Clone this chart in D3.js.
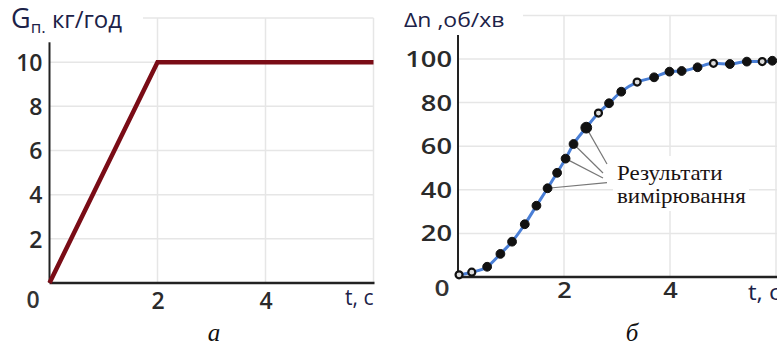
<!DOCTYPE html>
<html>
<head>
<meta charset="utf-8">
<script src="https://cdn.jsdelivr.net/npm/d3@7"></script>
<style>
  body { margin: 0; background: #fff; }
  svg { display: block; }
</style>
</head>
<body>
<div class="chart"></div>
<script>

// chart a: fuel flow
var flowT = [0, 2, 6];
var flowG = [0, 10, 10];
var flowTicksX = [2, 4];
var flowTicksY = [2, 4, 6, 8, 10];

// chart b: speed change, measured points
var speedT = [0.02, 0.26, 0.55, 0.8, 1.02, 1.26, 1.48, 1.69, 1.87, 2.03, 2.18, 2.42, 2.65,
              2.85, 3.08, 3.38, 3.7, 3.99, 4.22, 4.52, 4.82, 5.13, 5.45, 5.74, 5.93];
var speedN = [1, 2.2, 4.7, 10.6, 16.2, 24.2, 32.7, 40.7, 47.8, 54.3, 61, 68.5, 75.2,
              79.7, 85, 89.4, 91.6, 94.2, 94.5, 96.2, 98, 97.7, 98.8, 98.8, 99.2];
var speedHollow = [1, 1, 0, 0, 0, 0, 0, 0, 0, 0, 0, 0, 1,
                   0, 0, 1, 0, 0, 0, 0, 1, 0, 0, 1, 0];
var speedTicksX = [2, 4];
var speedTicksY = [20, 40, 60, 80, 100];
var labelled = [7, 9, 10, 11];

var width = 777,
    height = 347;

var svg = d3.select(".chart").append("svg")
    .attr("width", width)
    .attr("height", height)
    .attr("font-family", "Open Sans");

var gridColor = "#e6e6e6",
    axisColor = "#222",
    tickColor = "#2a2a2a",
    titleColor = "#1c2248";

// ---------- chart a ----------
var xa = d3.scaleLinear().domain([0, 6]).range([49.5, 373.5]);
var ya = d3.scaleLinear().domain([0, 12]).range([283, 18]);

var ga = svg.append("g");

ga.selectAll("line.hgrid")
    .data(flowTicksY)
  .enter().append("line")
    .attr("x1", xa(0)).attr("x2", xa(6))
    .attr("y1", function(d) { return ya(d); })
    .attr("y2", function(d) { return ya(d); })
    .attr("stroke", gridColor).attr("stroke-width", 1.5);

ga.selectAll("line.vgrid")
    .data([2, 4, 6])
  .enter().append("line")
    .attr("x1", function(d) { return xa(d); })
    .attr("x2", function(d) { return xa(d); })
    .attr("y1", ya(12)).attr("y2", ya(0))
    .attr("stroke", gridColor).attr("stroke-width", 1.5);

ga.append("line")
    .attr("x1", 143).attr("x2", xa(6))
    .attr("y1", ya(12)).attr("y2", ya(12))
    .attr("stroke", gridColor).attr("stroke-width", 1.5);

// axes
ga.append("line")
    .attr("x1", xa(0)).attr("x2", xa(0))
    .attr("y1", ya(10.9)).attr("y2", ya(0))
    .attr("stroke", axisColor).attr("stroke-width", 2);
ga.append("line")
    .attr("x1", xa(0)).attr("x2", xa(6) + 1)
    .attr("y1", ya(0)).attr("y2", ya(0))
    .attr("stroke", axisColor).attr("stroke-width", 2.5);

var ayA = ga.append("g")
    .attr("transform", "translate(" + xa(0) + ",0)")
    .call(d3.axisLeft(ya).tickValues(flowTicksY).tickFormat(d3.format("d")).tickSize(0).tickPadding(7));
ayA.select(".domain").remove();
ayA.selectAll("text")
    .attr("font-family", "Open Sans").attr("font-size", 23).attr("font-weight", 600)
    .attr("fill", tickColor).attr("dy", "0.36em");

var axA = ga.append("g")
    .attr("transform", "translate(0," + ya(0) + ")")
    .call(d3.axisBottom(xa).tickValues(flowTicksX).tickFormat(d3.format("d")).tickSize(0).tickPadding(10));
axA.select(".domain").remove();
axA.selectAll("text")
    .attr("font-family", "Open Sans").attr("font-size", 23).attr("font-weight", 600)
    .attr("fill", tickColor);

ga.append("text")
    .attr("x", 33).attr("y", 308)
    .attr("text-anchor", "middle")
    .attr("font-size", 23).attr("font-weight", 600)
    .attr("fill", "#333")
    .text("0");

ga.append("text")
    .attr("x", xa(6)).attr("y", 305)
    .attr("text-anchor", "end")
    .attr("font-size", 21)
    .attr("fill", titleColor)
    .text("t, c");

var titleA = ga.append("text")
    .attr("x", 11).attr("y", 28)
    .attr("fill", titleColor);
titleA.append("tspan").attr("font-size", 27).text("G");
titleA.append("tspan").attr("font-size", 17).attr("dy", 5).text("п.");
titleA.append("tspan").attr("font-size", 24).attr("dy", -5).text(" кг/год");

var flowLine = d3.line()
    .x(function(d, i) { return xa(flowT[i]); })
    .y(function(d) { return ya(d); });

ga.append("path")
    .attr("d", flowLine(flowG))
    .attr("fill", "none")
    .attr("stroke", "#7a0c16")
    .attr("stroke-width", 4.5)
    .attr("stroke-linejoin", "miter");

ga.append("text")
    .attr("x", 214).attr("y", 341)
    .attr("text-anchor", "middle")
    .attr("font-family", "Liberation Serif")
    .attr("font-style", "italic")
    .attr("font-size", 25)
    .attr("fill", "#111")
    .text("а");

// ---------- chart b ----------
var xb = d3.scaleLinear().domain([0, 6]).range([458, 776]);
var yb = d3.scaleLinear().domain([0, 120]).range([277, 15.4]);

var gb = svg.append("g");

gb.selectAll("line.hgrid")
    .data(speedTicksY)
  .enter().append("line")
    .attr("x1", xb(0)).attr("x2", width)
    .attr("y1", function(d) { return yb(d); })
    .attr("y2", function(d) { return yb(d); })
    .attr("stroke", gridColor).attr("stroke-width", 1.5);

gb.selectAll("line.vgrid")
    .data([2, 4, 6])
  .enter().append("line")
    .attr("x1", function(d) { return xb(d); })
    .attr("x2", function(d) { return xb(d); })
    .attr("y1", yb(120)).attr("y2", yb(0))
    .attr("stroke", gridColor).attr("stroke-width", 1.5);

gb.append("line")
    .attr("x1", 523).attr("x2", width)
    .attr("y1", yb(120)).attr("y2", yb(120))
    .attr("stroke", gridColor).attr("stroke-width", 1.5);

gb.append("line")
    .attr("x1", xb(0)).attr("x2", xb(0))
    .attr("y1", yb(111)).attr("y2", yb(0))
    .attr("stroke", axisColor).attr("stroke-width", 2);
gb.append("line")
    .attr("x1", xb(0)).attr("x2", width)
    .attr("y1", yb(0)).attr("y2", yb(0))
    .attr("stroke", axisColor).attr("stroke-width", 2.5);

var ayB = gb.append("g")
    .attr("transform", "translate(" + xb(0) + ",0)")
    .call(d3.axisLeft(yb).tickValues(speedTicksY).tickFormat(d3.format("d")).tickSize(0).tickPadding(0));
ayB.select(".domain").remove();
ayB.selectAll("text")
    .attr("x", null)
    .attr("font-family", "Open Sans").attr("font-size", 21).attr("font-weight", 600)
    .attr("fill", tickColor).attr("dy", "0.36em")
    .attr("transform", "translate(-6,0) scale(1.3,1)");

var axB = gb.append("g")
    .attr("transform", "translate(0," + yb(0) + ")")
    .call(d3.axisBottom(xb).tickValues(speedTicksX).tickFormat(d3.format("d")).tickSize(0).tickPadding(0));
axB.select(".domain").remove();
axB.selectAll("text")
    .attr("y", null).attr("dy", null)
    .attr("font-family", "Open Sans").attr("font-size", 22).attr("font-weight", 600)
    .attr("fill", tickColor)
    .attr("transform", "translate(0,21) scale(1.15,1)");

gb.append("text")
    .attr("transform", "translate(442,296) scale(1.2,1)")
    .attr("text-anchor", "middle")
    .attr("font-size", 22).attr("font-weight", 600)
    .attr("fill", "#333")
    .text("0");

gb.append("text")
    .attr("transform", "translate(748,300) scale(1.15,1)")
    .attr("font-size", 21)
    .attr("fill", titleColor)
    .text("t, c");

gb.append("text")
    .attr("transform", "translate(404,27) scale(1.15,1)")
    .attr("font-size", 20)
    .attr("fill", titleColor)
    .text("Δn ,об/хв");

var speedLine = d3.line()
    .x(function(d, i) { return xb(speedT[i]); })
    .y(function(d) { return yb(d); })
    .curve(d3.curveMonotoneX);

gb.append("path")
    .attr("d", speedLine(speedN))
    .attr("fill", "none")
    .attr("stroke", "#4a7fd6")
    .attr("stroke-width", 3);

// annotation background and text
var noteX = 617, noteY = 180;
gb.append("rect")
    .attr("x", noteX - 4).attr("y", noteY - 24)
    .attr("width", 136).attr("height", 55)
    .attr("fill", "#fff");

gb.selectAll("line.leader")
    .data(labelled)
  .enter().append("line")
    .attr("x1", function(d) { return xb(speedT[d]); })
    .attr("y1", function(d) { return yb(speedN[d]); })
    .attr("x2", function(d, i) { return noteX - [10, 14, 14, 10][i]; })
    .attr("y2", function(d, i) { return noteY + [2.7, -2, -7, -16][i]; })
    .attr("stroke", "#777")
    .attr("stroke-width", 1.2);

gb.selectAll("circle")
    .data(speedN)
  .enter().append("circle")
    .attr("cx", function(d, i) { return xb(speedT[i]); })
    .attr("cy", function(d) { return yb(d); })
    .attr("r", function(d, i) { return speedHollow[i] ? 3.5 : (i === 11 ? 5.4 : 4.4); })
    .attr("fill", function(d, i) { return speedHollow[i] ? "#ddd" : "#111"; })
    .attr("stroke", "#111")
    .attr("stroke-width", function(d, i) { return speedHollow[i] ? 2.2 : 1; });

var note = gb.append("text")
    .attr("transform", "translate(" + noteX + "," + noteY + ") scale(1.15,1)")
    .attr("font-family", "Liberation Serif")
    .attr("font-size", 20)
    .attr("fill", "#1a1212");
note.append("tspan").attr("x", 0).attr("y", 0).text("Результати");
note.append("tspan").attr("x", 0).attr("y", 23).text("вимірювання");

gb.append("text")
    .attr("x", 632).attr("y", 341)
    .attr("text-anchor", "middle")
    .attr("font-family", "Liberation Serif")
    .attr("font-style", "italic")
    .attr("font-size", 25)
    .attr("fill", "#111")
    .text("б");

</script>
</body>
</html>
